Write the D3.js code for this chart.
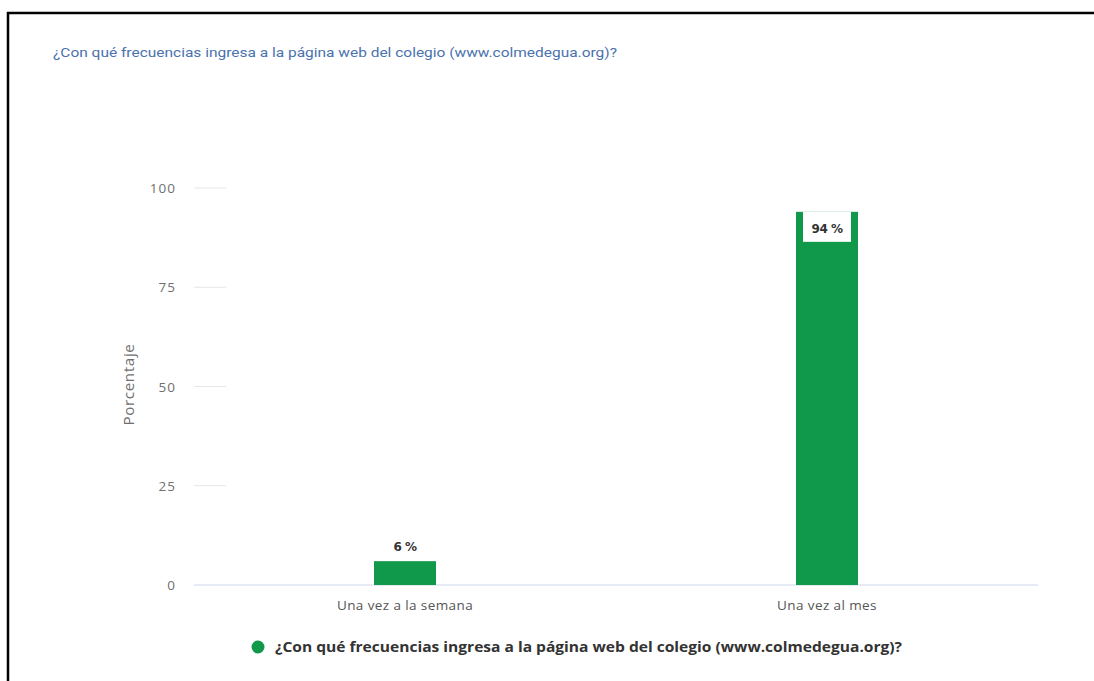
<!DOCTYPE html>
<html>
<head>
<meta charset="utf-8">
<script src="https://cdn.jsdelivr.net/npm/d3@7"></script>
<style>
  html, body { margin: 0; padding: 0; background: #fff; }
  svg { display: block; }
</style>
</head>
<body>
<svg id="chart" width="1094" height="681"></svg>
<script>
// Survey question, answer categories and share of responses (%)
const question = "¿Con qué frecuencias ingresa a la página web del colegio (www.colmedegua.org)?";
const categories = ["Una vez a la semana", "Una vez al mes"];
const values = [6, 94];
const yTicks = [0, 25, 50, 75, 100];
const yTitle = "Porcentaje";

const svg = d3.select("#chart");
const green = "#10984b";

// frame lines (top and left edges)
svg.append("line").attr("x1", 7).attr("x2", 1094).attr("y1", 13).attr("y2", 13)
  .attr("stroke", "#000").attr("stroke-width", 2.5);
svg.append("line").attr("x1", 8).attr("x2", 8).attr("y1", 12).attr("y2", 681)
  .attr("stroke", "#000").attr("stroke-width", 2.5);

// title
svg.append("text")
  .attr("x", 53).attr("y", 57)
  .attr("font-family", "Roboto, sans-serif")
  .attr("font-size", 13.5)
  .attr("fill", "#4a72ad")
  .attr("textLength", 564)
  .attr("lengthAdjust", "spacingAndGlyphs")
  .text(question);

const x = d3.scalePoint().domain(categories).range([194, 1038]).padding(0.5);
const y = d3.scaleLinear().domain([0, 100]).range([585, 188]);
const barW = 62;

// short grid marks beside the y labels
svg.selectAll("line.grid").data(yTicks.filter(t => t > 0)).join("line")
  .attr("class", "grid")
  .attr("x1", 194).attr("x2", 226)
  .attr("y1", d => y(d)).attr("y2", d => y(d))
  .attr("stroke", "#e6e6e6").attr("stroke-width", 1);

// baseline
svg.append("line")
  .attr("x1", 194).attr("x2", 1038)
  .attr("y1", y(0)).attr("y2", y(0))
  .attr("stroke", "#ccd6eb").attr("stroke-width", 1);

// y tick labels
svg.selectAll("text.ytick").data(yTicks).join("text")
  .attr("class", "ytick")
  .attr("x", 176).attr("y", d => y(d) + 5)
  .attr("text-anchor", "end")
  .attr("font-family", "'Open Sans', sans-serif")
  .attr("font-size", 13.5)
  .attr("letter-spacing", 1)
  .attr("fill", "#707070")
  .text(d => d);

// y axis title
svg.append("text")
  .attr("transform", `translate(134, ${y(50) - 2}) rotate(-90)`)
  .attr("text-anchor", "middle")
  .attr("font-family", "'Open Sans', sans-serif")
  .attr("font-size", 15)
  .attr("letter-spacing", 0.6)
  .attr("fill", "#707070")
  .attr("textLength", 82)
  .attr("lengthAdjust", "spacingAndGlyphs")
  .text(yTitle);

// x category labels
svg.selectAll("text.xcat").data(categories).join("text")
  .attr("class", "xcat")
  .attr("x", d => x(d)).attr("y", 610)
  .attr("text-anchor", "middle")
  .attr("font-family", "'Open Sans', sans-serif")
  .attr("font-size", 13.5)
  .attr("letter-spacing", 0.4)
  .attr("fill", "#555")
  .text(d => d);

// bars
const data = categories.map((c, i) => ({ c, v: values[i] }));
svg.selectAll("rect.bar").data(data).join("rect")
  .attr("class", "bar")
  .attr("x", d => x(d.c) - barW / 2)
  .attr("width", barW)
  .attr("y", d => y(d.v))
  .attr("height", d => y(0) - y(d.v))
  .attr("fill", green);

// value labels: inside a white box for tall bars, above short bars
data.forEach(d => {
  const cx = x(d.c);
  const inside = d.v > 50;
  if (inside) {
    svg.append("rect")
      .attr("x", cx - 24).attr("width", 48)
      .attr("y", y(d.v)).attr("height", 30)
      .attr("fill", "#fff");
  }
  svg.append("text")
    .attr("x", cx)
    .attr("y", inside ? y(d.v) + 21 : y(d.v) - 10)
    .attr("text-anchor", "middle")
    .attr("font-family", "'DejaVu Sans', sans-serif")
    .attr("font-weight", "bold")
    .attr("font-size", 12)
    .attr("letter-spacing", -0.5)
    .attr("fill", "#333")
    .text(d.v + " %");
});

// legend
svg.append("circle").attr("cx", 258).attr("cy", 647).attr("r", 6.5).attr("fill", green);
svg.append("text")
  .attr("x", 275).attr("y", 652)
  .attr("font-family", "'Open Sans', sans-serif")
  .attr("font-weight", "bold")
  .attr("font-size", 14)
  .attr("fill", "#333")
  .attr("textLength", 627)
  .attr("lengthAdjust", "spacingAndGlyphs")
  .text(question);
</script>
</body>
</html>
